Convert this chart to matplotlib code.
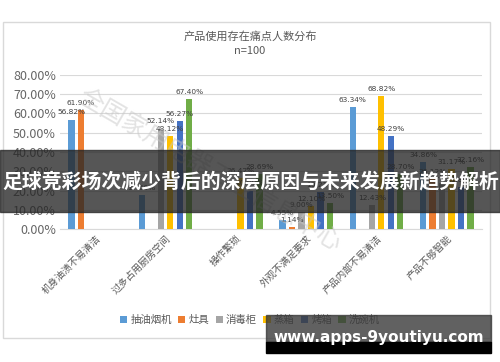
import matplotlib
matplotlib.use("Agg")
import matplotlib.pyplot as plt
import numpy as np
from matplotlib.patches import Rectangle

plt.rcParams['font.family'] = ['Noto Sans CJK SC', 'DejaVu Sans']

# data (values in %)
categories = ["机身油渍不易清洁", "过多占用厨房空间", "操作繁琐", "外观不满足要求", "产品内部不易清洁", "产品不够智能"]
series_names = ["抽油烟机", "灶具", "消毒柜", "蒸箱", "烤箱", "洗碗机"]
youyanji = [56.82, 17.60, 0, 4.55, 63.34, 34.86]
zaoju = [61.90, 0, 0, 1.14, 0, 26.12]
xiaodugui = [0, 52.14, 0, 9.00, 12.43, 24.00]
zhengxiang = [0, 48.12, 26.42, 12.10, 68.82, 31.17]
kaoxiang = [0, 56.27, 20.00, 19.21, 48.29, 21.80]
xiwanji = [0, 67.40, 28.69, 13.50, 28.70, 32.16]
yticks = [0, 10, 20, 30, 40, 50, 60, 70, 80]

colors = ["#5B9BD5", "#ED7D31", "#A5A5A5", "#FFC000", "#4472C4", "#70AD47"]
all_series = [youyanji, zaoju, xiaodugui, zhengxiang, kaoxiang, xiwanji]

fig = plt.figure(figsize=(5, 3.62), dpi=100)

# chart frame
fig.add_artist(Rectangle((0.006, 0.066), 0.974, 0.873, transform=fig.transFigure,
                         fill=False, edgecolor="#d9d9d9", linewidth=1, zorder=0))

ax = fig.add_axes([0.12, 0.367, 0.844, 0.426])
x = np.arange(len(categories))
step = 0.135
bw = 0.09
for i, vals in enumerate(all_series):
    pos = x + (i - 2.5) * step
    ax.bar(pos, vals, width=bw, color=colors[i], label=series_names[i], zorder=3)
    for px, v in zip(pos, vals):
        if v > 0:
            ax.annotate("%.2f%%" % v, (px, v), xytext=(0, 3), textcoords="offset points",
                        ha="center", va="bottom", fontsize=5.3, color="#404040",
                        family="DejaVu Sans", zorder=4)

ax.set_ylim(0, 80)
ax.set_xlim(-0.5, 5.5)
ax.set_yticks(yticks)
ax.set_yticklabels(["%.2f%%" % t for t in yticks], fontsize=9, color="#666666")
ax.set_xticks(x)
ax.set_xticklabels(categories, rotation=45, ha="right", rotation_mode="anchor",
                   fontsize=7, color="#595959")
ax.tick_params(length=0, pad=3)
ax.grid(axis="y", color="#d9d9d9", linewidth=0.8, zorder=0)
for s in ["top", "right", "left"]:
    ax.spines[s].set_visible(False)
ax.spines["bottom"].set_color("#d9d9d9")

fig.text(0.5, 0.9, "产品使用存在痛点人数分布", ha="center", va="center", fontsize=8, color="#595959")
fig.text(0.5, 0.86, "n=100", ha="center", va="center", fontsize=8, color="#595959")

ax.legend(loc="center", bbox_to_anchor=(0.45, -0.59), ncol=6, frameon=False,
          fontsize=7.5, handlelength=0.7, handleheight=0.7, handletextpad=0.3,
          columnspacing=0.6, labelcolor="#595959")

# watermark
fig.text(0.42, 0.53, "全国家用电器工业信息中心", rotation=-30, ha="center", va="center",
         fontsize=18, color="#c8c8c8", alpha=0.5, zorder=5)

# overlay banner
fig.add_artist(Rectangle((0, 0.414), 1, 0.171, transform=fig.transFigure,
                         color="#262626", alpha=0.78, zorder=6))
fig.text(0.004, 0.5, "足球竞彩场次减少背后的深层原因与未来发展新趋势解析", ha="left", va="center",
         fontsize=14.3, fontweight="bold", color="white", zorder=7)

# url box
fig.add_artist(Rectangle((0.532, 0.055), 0.45, 0.075, transform=fig.transFigure,
                         color="#3a3a3a", alpha=0.8, zorder=6))
fig.add_artist(Rectangle((0.532, 0.025), 0.45, 0.031, transform=fig.transFigure,
                         color="black", zorder=6))
fig.text(0.757, 0.068, "www.apps-9youtiyu.com", ha="center", va="center",
         fontsize=11, fontweight="bold", color="white", family="DejaVu Sans", zorder=7)

fig.savefig("out.png", dpi=100)
